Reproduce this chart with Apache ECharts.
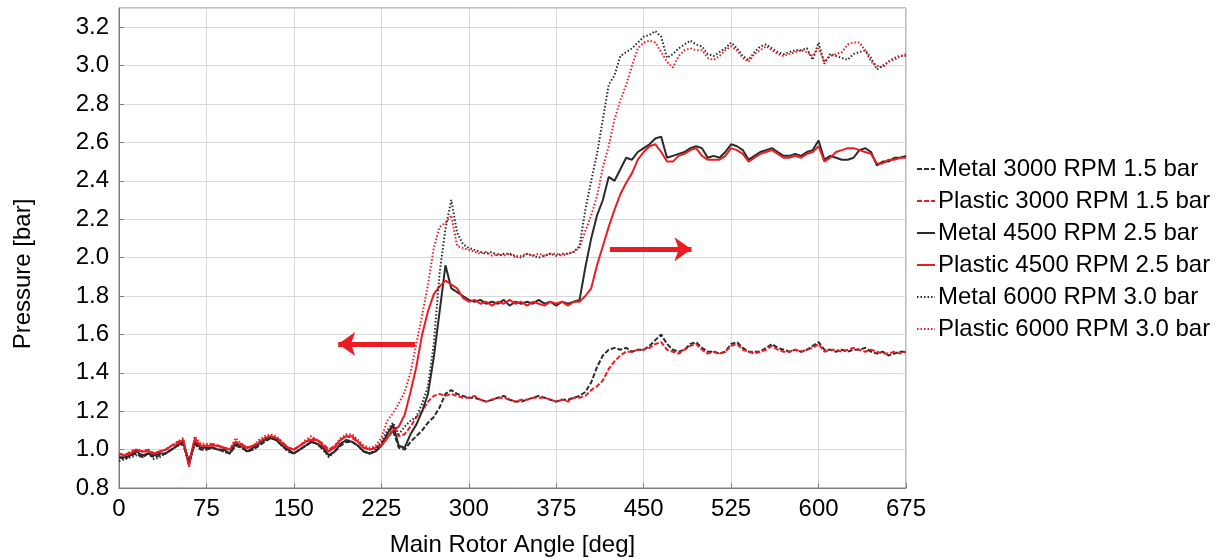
<!DOCTYPE html>
<html>
<head>
<meta charset="utf-8">
<script src="https://cdn.jsdelivr.net/npm/echarts@6/dist/echarts.min.js"></script>
<style>
  html, body { margin: 0; padding: 0; background: #fff; }
  #chart { width: 1219px; height: 558px; }
</style>
</head>
<body>
<div id="chart"></div>
<script>
  // angle grid of the samples, every 5 deg from 0 to 675
  var angles = [];
  for (var a = 0; a <= 675; a += 5) angles.push(a);

  var legendNames = [
    'Metal 3000 RPM 1.5 bar',
    'Plastic 3000 RPM 1.5 bar',
    'Metal 4500 RPM 2.5 bar',
    'Plastic 4500 RPM 2.5 bar',
    'Metal 6000 RPM 3.0 bar',
    'Plastic 6000 RPM 3.0 bar'
  ];

  // pressure [bar], one row per 75 deg
  var metal3000 = [
    0.96, 0.95, 0.97, 0.98, 0.96, 0.98, 0.96, 0.97, 0.98, 1.00, 1.02, 1.03, 0.93, 1.03, 1.00,
    1.00, 1.01, 1.00, 0.99, 0.98, 1.02, 1.01, 0.99, 1.00, 1.02, 1.04, 1.06, 1.05, 1.02, 0.99,
    0.98, 1.00, 1.02, 1.04, 1.03, 1.00, 0.97, 0.99, 1.02, 1.04, 1.04, 1.02, 0.99, 0.98, 0.99,
    1.02, 1.06, 1.10, 1.01, 1.00, 1.04, 1.07, 1.10, 1.14, 1.17, 1.22, 1.29, 1.31, 1.29, 1.28,
    1.27, 1.27, 1.26, 1.25, 1.26, 1.27, 1.28, 1.26, 1.25, 1.25, 1.26, 1.27, 1.28, 1.27, 1.26,
    1.25, 1.26, 1.26, 1.27, 1.28, 1.30, 1.35, 1.43, 1.49, 1.52, 1.53, 1.52, 1.53, 1.51, 1.52,
    1.52, 1.54, 1.57, 1.60, 1.55, 1.52, 1.51, 1.52, 1.55, 1.56, 1.53, 1.51, 1.51, 1.50, 1.51,
    1.55, 1.56, 1.53, 1.51, 1.51, 1.51, 1.53, 1.55, 1.53, 1.52, 1.51, 1.52, 1.51, 1.52, 1.54,
    1.56, 1.52, 1.52, 1.51, 1.52, 1.51, 1.52, 1.52, 1.53, 1.51, 1.50, 1.51, 1.49, 1.50, 1.51,
    1.51
  ];
  var plastic3000 = [
    0.98, 0.97, 0.99, 1.00, 0.99, 1.00, 0.98, 0.99, 1.00, 1.02, 1.04, 1.05, 0.91, 1.06, 1.02,
    1.02, 1.03, 1.02, 1.01, 1.00, 1.04, 1.03, 1.01, 1.02, 1.04, 1.06, 1.07, 1.06, 1.04, 1.01,
    1.00, 1.02, 1.04, 1.06, 1.05, 1.03, 1.00, 1.02, 1.05, 1.07, 1.06, 1.04, 1.01, 1.00, 1.01,
    1.03, 1.08, 1.12, 1.07, 1.08, 1.12, 1.17, 1.20, 1.25, 1.28, 1.29, 1.28, 1.29, 1.28, 1.27,
    1.27, 1.28, 1.26, 1.25, 1.26, 1.27, 1.27, 1.26, 1.25, 1.26, 1.26, 1.27, 1.27, 1.27, 1.26,
    1.25, 1.26, 1.25, 1.27, 1.27, 1.28, 1.31, 1.33, 1.36, 1.42, 1.46, 1.49, 1.51, 1.51, 1.52,
    1.52, 1.53, 1.55, 1.56, 1.52, 1.51, 1.50, 1.52, 1.54, 1.55, 1.52, 1.50, 1.51, 1.50, 1.51,
    1.54, 1.55, 1.52, 1.51, 1.50, 1.51, 1.52, 1.54, 1.52, 1.51, 1.51, 1.52, 1.51, 1.52, 1.53,
    1.55, 1.51, 1.52, 1.52, 1.51, 1.52, 1.53, 1.52, 1.51, 1.52, 1.51, 1.50, 1.50, 1.51, 1.50,
    1.51
  ];
  var metal4500 = [
    0.96, 0.96, 0.97, 0.99, 0.97, 0.98, 0.97, 0.98, 0.98, 1.00, 1.02, 1.04, 0.94, 1.04, 1.01,
    1.01, 1.01, 1.00, 1.00, 0.98, 1.03, 1.02, 0.99, 1.01, 1.03, 1.05, 1.06, 1.05, 1.02, 1.00,
    0.98, 1.00, 1.02, 1.04, 1.03, 1.01, 0.97, 0.99, 1.03, 1.05, 1.04, 1.02, 0.99, 0.98, 0.99,
    1.02, 1.08, 1.13, 1.02, 1.01, 1.08, 1.13, 1.20, 1.29, 1.48, 1.72, 1.96, 1.84, 1.82, 1.80,
    1.78, 1.77, 1.78, 1.76, 1.77, 1.76, 1.78, 1.75, 1.77, 1.76, 1.77, 1.76, 1.78, 1.76, 1.77,
    1.75, 1.77, 1.76, 1.77, 1.78, 1.95, 2.10, 2.22, 2.30, 2.42, 2.40, 2.46, 2.52, 2.51, 2.55,
    2.57, 2.59, 2.62, 2.63, 2.52, 2.53, 2.54, 2.55, 2.57, 2.58, 2.57, 2.52, 2.53, 2.52, 2.55,
    2.59, 2.58, 2.56, 2.51, 2.53, 2.55, 2.56, 2.57, 2.55, 2.53, 2.53, 2.54, 2.53, 2.55, 2.56,
    2.61, 2.51, 2.53, 2.52, 2.51, 2.51, 2.52, 2.56, 2.57, 2.55, 2.48, 2.50, 2.50, 2.52, 2.52,
    2.53
  ];
  var plastic4500 = [
    0.98, 0.97, 0.98, 1.00, 0.99, 0.99, 0.98, 0.99, 1.00, 1.02, 1.03, 1.05, 0.92, 1.05, 1.02,
    1.02, 1.02, 1.02, 1.01, 1.00, 1.04, 1.02, 1.01, 1.02, 1.03, 1.06, 1.07, 1.06, 1.03, 1.01,
    1.00, 1.02, 1.04, 1.05, 1.05, 1.02, 0.99, 1.01, 1.05, 1.07, 1.07, 1.04, 1.01, 1.00, 1.01,
    1.02, 1.06, 1.10, 1.12, 1.18, 1.30, 1.43, 1.60, 1.72, 1.81, 1.85, 1.88, 1.86, 1.84, 1.79,
    1.77, 1.78, 1.76, 1.77, 1.75, 1.77, 1.76, 1.78, 1.76, 1.77, 1.75, 1.77, 1.76, 1.75, 1.77,
    1.76, 1.77, 1.75, 1.77, 1.77, 1.80, 1.84, 1.96, 2.06, 2.16, 2.25, 2.33, 2.39, 2.44, 2.51,
    2.55, 2.58, 2.59, 2.55, 2.50, 2.50, 2.53, 2.54, 2.56, 2.57, 2.53, 2.51, 2.51, 2.51, 2.53,
    2.57, 2.56, 2.54, 2.50, 2.52, 2.54, 2.55, 2.56, 2.54, 2.52, 2.52, 2.53, 2.52, 2.54, 2.55,
    2.58, 2.50, 2.52, 2.55, 2.56, 2.57, 2.57, 2.56, 2.55, 2.54, 2.49, 2.49, 2.51, 2.51, 2.52,
    2.52
  ];
  var metal6000 = [
    0.94, 0.95, 0.96, 0.97, 0.96, 0.98, 0.95, 0.96, 0.98, 1.00, 1.02, 1.03, 0.93, 1.03, 1.00,
    1.00, 1.01, 1.00, 0.99, 0.98, 1.03, 1.01, 0.99, 1.00, 1.03, 1.05, 1.06, 1.05, 1.02, 0.99,
    0.98, 1.00, 1.02, 1.04, 1.03, 1.00, 0.96, 0.99, 1.03, 1.05, 1.04, 1.02, 0.99, 0.98, 1.00,
    1.04, 1.10, 1.14, 1.08, 1.12, 1.15, 1.17, 1.24, 1.33, 1.55, 1.92, 2.15, 2.30, 2.13, 2.07,
    2.05, 2.04, 2.03, 2.02, 2.03, 2.01, 2.02, 2.02, 2.01, 2.00, 2.02, 2.01, 2.00, 2.01, 2.02,
    2.01, 2.02, 2.02, 2.03, 2.06, 2.25, 2.40, 2.54, 2.72, 2.90, 2.95, 3.05, 3.07, 3.09, 3.12,
    3.15, 3.16, 3.18, 3.15, 3.04, 3.06, 3.09, 3.11, 3.13, 3.11, 3.10, 3.06, 3.05, 3.07, 3.09,
    3.12, 3.09, 3.05, 3.03, 3.07, 3.10, 3.11, 3.09, 3.07, 3.06, 3.07, 3.08, 3.08, 3.09, 3.03,
    3.12, 3.01, 3.06, 3.05, 3.04, 3.03, 3.06, 3.07, 3.08, 3.04, 2.98, 3.00, 3.02, 3.04, 3.05,
    3.05
  ];
  var plastic6000 = [
    0.97, 0.97, 0.99, 1.00, 0.99, 1.00, 0.98, 0.99, 1.00, 1.02, 1.04, 1.06, 0.92, 1.07, 1.03,
    1.03, 1.03, 1.02, 1.01, 1.00, 1.06, 1.03, 1.01, 1.02, 1.05, 1.07, 1.08, 1.07, 1.04, 1.01,
    1.00, 1.02, 1.05, 1.07, 1.05, 1.02, 0.99, 1.02, 1.06, 1.08, 1.08, 1.05, 1.02, 1.01, 1.02,
    1.06, 1.15, 1.19, 1.24, 1.30, 1.40, 1.55, 1.70, 1.86, 2.05, 2.16, 2.18, 2.22, 2.06, 2.05,
    2.04, 2.03, 2.02, 2.03, 2.01, 2.02, 2.01, 2.02, 2.00, 2.01, 2.02, 2.01, 2.02, 2.01, 2.02,
    2.02, 2.01, 2.02, 2.03, 2.05, 2.14, 2.22, 2.32, 2.47, 2.58, 2.72, 2.82, 2.90, 3.00, 3.09,
    3.12, 3.13, 3.12, 3.07, 3.02, 2.99, 3.05, 3.08, 3.09, 3.08, 3.08, 3.04, 3.03, 3.05, 3.08,
    3.10, 3.08, 3.04, 3.02, 3.06, 3.08, 3.10, 3.08, 3.06, 3.05, 3.06, 3.07, 3.08, 3.07, 3.05,
    3.09, 3.02, 3.05, 3.06, 3.07, 3.11, 3.12, 3.12, 3.08, 3.02, 3.00, 2.99, 3.02, 3.03, 3.05,
    3.06
  ];

  // shift arrows drawn on the plot: [from angle, to angle, pressure]
  var arrowLeft = [254, 188, 1.55];
  var arrowRight = [421, 491, 2.044];

  var BLACK = '#2b2b2b';
  var RED = '#ec1c24';
  var FONT = 'Liberation Sans, Arial, sans-serif';

  function pair (vals) {
    return angles.map(function (x, i) { return [x, vals[i]]; });
  }

  function line (name, vals, color, type, width) {
    return {
      name: name,
      type: 'line',
      data: pair(vals),
      showSymbol: false,
      symbol: 'none',
      animation: false,
      lineStyle: { color: color, type: type, width: width },
      itemStyle: { color: color }
    };
  }

  var series = [
    line(legendNames[0], metal3000, BLACK, [5, 2], 2),
    line(legendNames[1], plastic3000, RED, [5, 2], 2),
    line(legendNames[2], metal4500, BLACK, 'solid', 2),
    line(legendNames[3], plastic4500, RED, 'solid', 2),
    line(legendNames[4], metal6000, BLACK, [1.5, 2], 2),
    line(legendNames[5], plastic6000, RED, [1.5, 2], 2)
  ];

  series[3].markLine = {
    silent: true,
    animation: false,
    symbol: ['none', 'arrow'],
    symbolSize: [18, 17],
    label: { show: false },
    lineStyle: { color: RED, type: 'solid', width: 5 },
    data: [
      [{ coord: [arrowLeft[0], arrowLeft[2]] }, { coord: [arrowLeft[1], arrowLeft[2]] }],
      [{ coord: [arrowRight[0], arrowRight[2]] }, { coord: [arrowRight[1], arrowRight[2]] }]
    ]
  };

  var chart = echarts.init(document.getElementById('chart'));
  chart.setOption({
    backgroundColor: '#fff',
    animation: false,
    grid: {
      left: 119,
      right: 313,
      top: 8,
      bottom: 70,
      show: true,
      borderColor: '#7f7f7f',
      borderWidth: 1,
      containLabel: false,
      outerBoundsMode: 'none'
    },
    legend: {
      orient: 'vertical',
      left: 911,
      top: 152,
      itemWidth: 18,
      itemHeight: 10,
      itemGap: 8,
      itemStyle: { opacity: 0 },
      textStyle: { fontFamily: FONT, fontSize: 24, color: '#000', padding: [0, 0, 0, -2] },
      data: legendNames
    },
    xAxis: {
      type: 'value',
      min: 0,
      max: 675,
      interval: 75,
      name: 'Main Rotor Angle [deg]',
      nameLocation: 'middle',
      nameGap: 45,
      nameTextStyle: { fontFamily: FONT, fontSize: 24, color: '#000' },
      axisLine: { lineStyle: { color: '#7f7f7f', width: 1 } },
      axisTick: { inside: true, length: 5, lineStyle: { color: '#7f7f7f' } },
      axisLabel: { fontFamily: FONT, fontSize: 24, color: '#000', margin: 9 },
      splitLine: { lineStyle: { color: '#d9d9d9', width: 1 } }
    },
    yAxis: {
      type: 'value',
      min: 0.8,
      max: 3.3,
      interval: 0.2,
      name: 'Pressure [bar]',
      nameLocation: 'middle',
      nameGap: 84,
      nameTextStyle: { fontFamily: FONT, fontSize: 24, color: '#000', padding: [0, 52, 0, 0] },
      axisLine: { lineStyle: { color: '#7f7f7f', width: 1 } },
      axisTick: { inside: true, length: 5, lineStyle: { color: '#7f7f7f' } },
      axisLabel: {
        fontFamily: FONT,
        fontSize: 24,
        color: '#000',
        margin: 10,
        showMaxLabel: false,
        formatter: function (v) { return v.toFixed(1); }
      },
      splitLine: { lineStyle: { color: '#d9d9d9', width: 1 } }
    },
    series: series
  });
</script>
</body>
</html>
